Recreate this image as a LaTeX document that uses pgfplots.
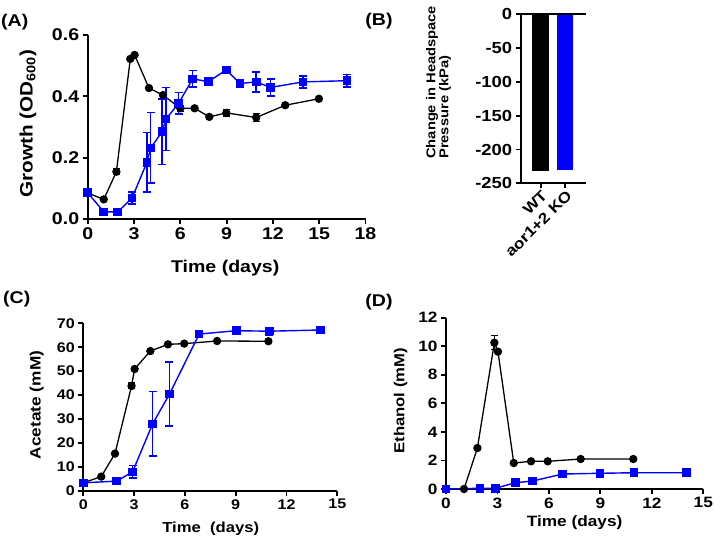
\documentclass[border=0pt]{standalone}
\usepackage{fontspec}
\setmainfont{Liberation Sans}[FakeStretch=1.15]
\usepackage{pgfplots}
\usepackage{pgfplotstable}
\pgfplotsset{compat=1.18}
\definecolor{gpblue}{RGB}{0,0,255}
\newcommand{\fs}[1]{\fontsize{#1}{#1}\selectfont\bfseries}

\pgfplotstableread{
x y e
0 0.085 0
1.04 0.064 0
1.86 0.154 0.01
2.76 0.522 0.005
3.04 0.535 0
3.97 0.427 0
4.88 0.404 0
6.0 0.361 0.01
6.93 0.361 0
7.88 0.333 0
8.98 0.346 0.01
10.92 0.331 0.012
12.8 0.371 0
14.98 0.392 0
}\Ablack
\pgfplotstableread{
x y e
0 0.086 0
1.04 0.023 0
1.94 0.023 0
2.87 0.068 0.02
3.84 0.185 0.097
4.08 0.232 0.115
4.83 0.285 0.107
5.07 0.326 0.103
5.89 0.377 0.035
6.8 0.457 0.027
7.81 0.448 0.01
8.98 0.486 0.005
9.86 0.442 0.01
10.92 0.447 0.033
11.85 0.429 0.027
13.94 0.447 0.02
16.8 0.451 0.02
}\Ablue
\pgfplotstableread{
x y e
0 3.3 0
1.06 5.9 0
1.87 15.5 0
2.85 43.8 1.2
3.03 50.9 0
3.96 58.4 0
5.0 61.2 0
5.96 61.5 0
7.9 62.6 0
10.93 62.5 0
}\Cblack
\pgfplotstableread{
x y e
0 3.3 0.5
1.97 4.0 0
2.91 7.9 2.7
4.09 27.9 13.5
5.09 40.4 13.4
6.84 65.5 1
9.03 66.9 1.5
10.98 66.7 1.5
14.0 67.2 1.5
}\Cblue
\pgfplotstableread{
x y e
0 0 0
1.05 0 0
1.83 2.87 0
2.82 10.25 0.5
3.03 9.62 0
3.95 1.82 0
4.96 1.94 0
5.93 1.94 0
7.85 2.1 0
10.92 2.1 0
}\Dblack
\pgfplotstableread{
x y e
0 0 0
1.98 0.05 0
2.88 0.05 0
4.04 0.44 0
5.05 0.56 0.25
6.8 1.05 0
8.98 1.1 0
10.96 1.14 0
14.03 1.14 0
}\Dblue

\pgfplotsset{
  gp/.style={
    scale only axis,
    anchor=south west,
    axis lines*=left,
    axis line style={-, line width=1.8pt},
    every tick/.style={black, line width=1.8pt},
    tick align=outside,
    major tick length=5pt,
    /pgf/number format/assume math mode=true,
    clip=false,
  },
  bk/.style={black, line width=1.3pt, mark=*, mark size=3.5pt,
    mark options={solid, fill=black},
    error bars/.cd, y dir=both, y explicit,
    error bar style={line width=1.3pt, black},
    error mark options={rotate=90, mark size=3.5pt, line width=1.3pt, black}},
  bl/.style={gpblue, line width=1.4pt, mark=square*, mark size=3.6pt,
    mark options={solid, fill=gpblue},
    error bars/.cd, y dir=both, y explicit,
    error bar style={line width=1.6pt, gpblue},
    error mark options={rotate=90, mark size=4pt, line width=1.6pt, gpblue}},
}

\begin{document}
\begin{tikzpicture}[x=1pt,y=1pt]
\useasboundingbox (0,0) rectangle (714,546);

% Panel A
\begin{axis}[gp, at={(87.7pt,327pt)}, width=277.8pt, height=184pt,
  xmin=0, xmax=18, ymin=0, ymax=0.6,
  xtick={0,3,...,18}, ytick={0,0.2,0.4,0.6},
  yticklabel style={/pgf/number format/fixed, /pgf/number format/fixed zerofill, /pgf/number format/precision=1},
  tick label style={font=\fs{17}},
  xlabel={Time (days)}, xlabel style={font=\fs{17}, at={(axis description cs:0.495,-0.266)}, anchor=center},
  ylabel={Growth (OD\textsubscript{600})}, ylabel style={font=\fs{18}, at={(axis description cs:-0.215,0.519)}, anchor=center},
]
\addplot[bk] table[x=x, y=y, y error=e] {\Ablack};
\addplot[bl] table[x=x, y=y, y error=e] {\Ablue};
\end{axis}

% Panel B
\begin{axis}[gp, at={(520.7pt,362.7pt)}, width=65.3pt, height=169pt,
  xmin=-0.81, xmax=1.84, ymin=-250, ymax=0,
  xtick={0,1}, xticklabels={WT,aor1+2 KO},
  ytick={-250,-200,-150,-100,-50,0}, yticklabels={-250,-200,-150,-100,-50,0},
  yticklabel style={font=\fs{16}},
  xticklabel style={font=\fs{15}, rotate=45, anchor=east, yshift=-6pt, xshift=3pt},
]
\addplot[ybar, bar shift=0pt, bar width=16.6pt, fill=black, draw=none] coordinates {(0,-231.8)};
\addplot[ybar, bar shift=0pt, bar width=16.2pt, fill=gpblue, draw=none] coordinates {(1,-230.3)};
\draw[line width=1.8pt] (rel axis cs:0,1) -- (rel axis cs:1,1);
\end{axis}
\node[rotate=90, anchor=north west, align=left, inner sep=0pt, font=\fs{12.8}] at (426,387) {Change in Headspace\\Pressure (kPa)};

% Panel C
\begin{axis}[gp, at={(83.3pt,55.3pt)}, width=254pt, height=167.4pt,
  xmin=0, xmax=15, ymin=0, ymax=70,
  xtick={0,3,...,15}, ytick={0,10,...,70},
  tick label style={font=\fs{14}},
  xlabel={Time\ \ (days)}, xlabel style={font=\fs{14.5}, at={(axis description cs:0.502,-0.225)}, anchor=center},
  ylabel={Acetate (mM)}, ylabel style={font=\fs{15}, at={(axis description cs:-0.183,0.512)}, anchor=center},
]
\addplot[bk] table[x=x, y=y, y error=e] {\Cblack};
\addplot[bl] table[x=x, y=y, y error=e] {\Cblue};
\end{axis}

% Panel D
\begin{axis}[gp, at={(446pt,57pt)}, width=257.3pt, height=171.3pt,
  xmin=0, xmax=15, ymin=0, ymax=12,
  xtick={0,3,...,15}, ytick={0,2,...,12},
  tick label style={font=\fs{15}},
  xlabel={Time (days)}, xlabel style={font=\fs{15}, at={(axis description cs:0.5,-0.194)}, anchor=center},
  ylabel={Ethanol (mM)}, ylabel style={font=\fs{14.5}, at={(axis description cs:-0.176,0.515)}, anchor=center},
]
\addplot[bk] table[x=x, y=y, y error=e] {\Dblack};
\addplot[bl] table[x=x, y=y, y error=e] {\Dblue};
\end{axis}

\node[font=\fs{17}] at (14.7,524.3) {(A)};
\node[font=\fs{17}] at (379,524.7) {(B)};
\node[font=\fs{17}] at (16.7,246.5) {(C)};
\node[font=\fs{17}] at (379,244) {(D)};
\end{tikzpicture}
\end{document}
